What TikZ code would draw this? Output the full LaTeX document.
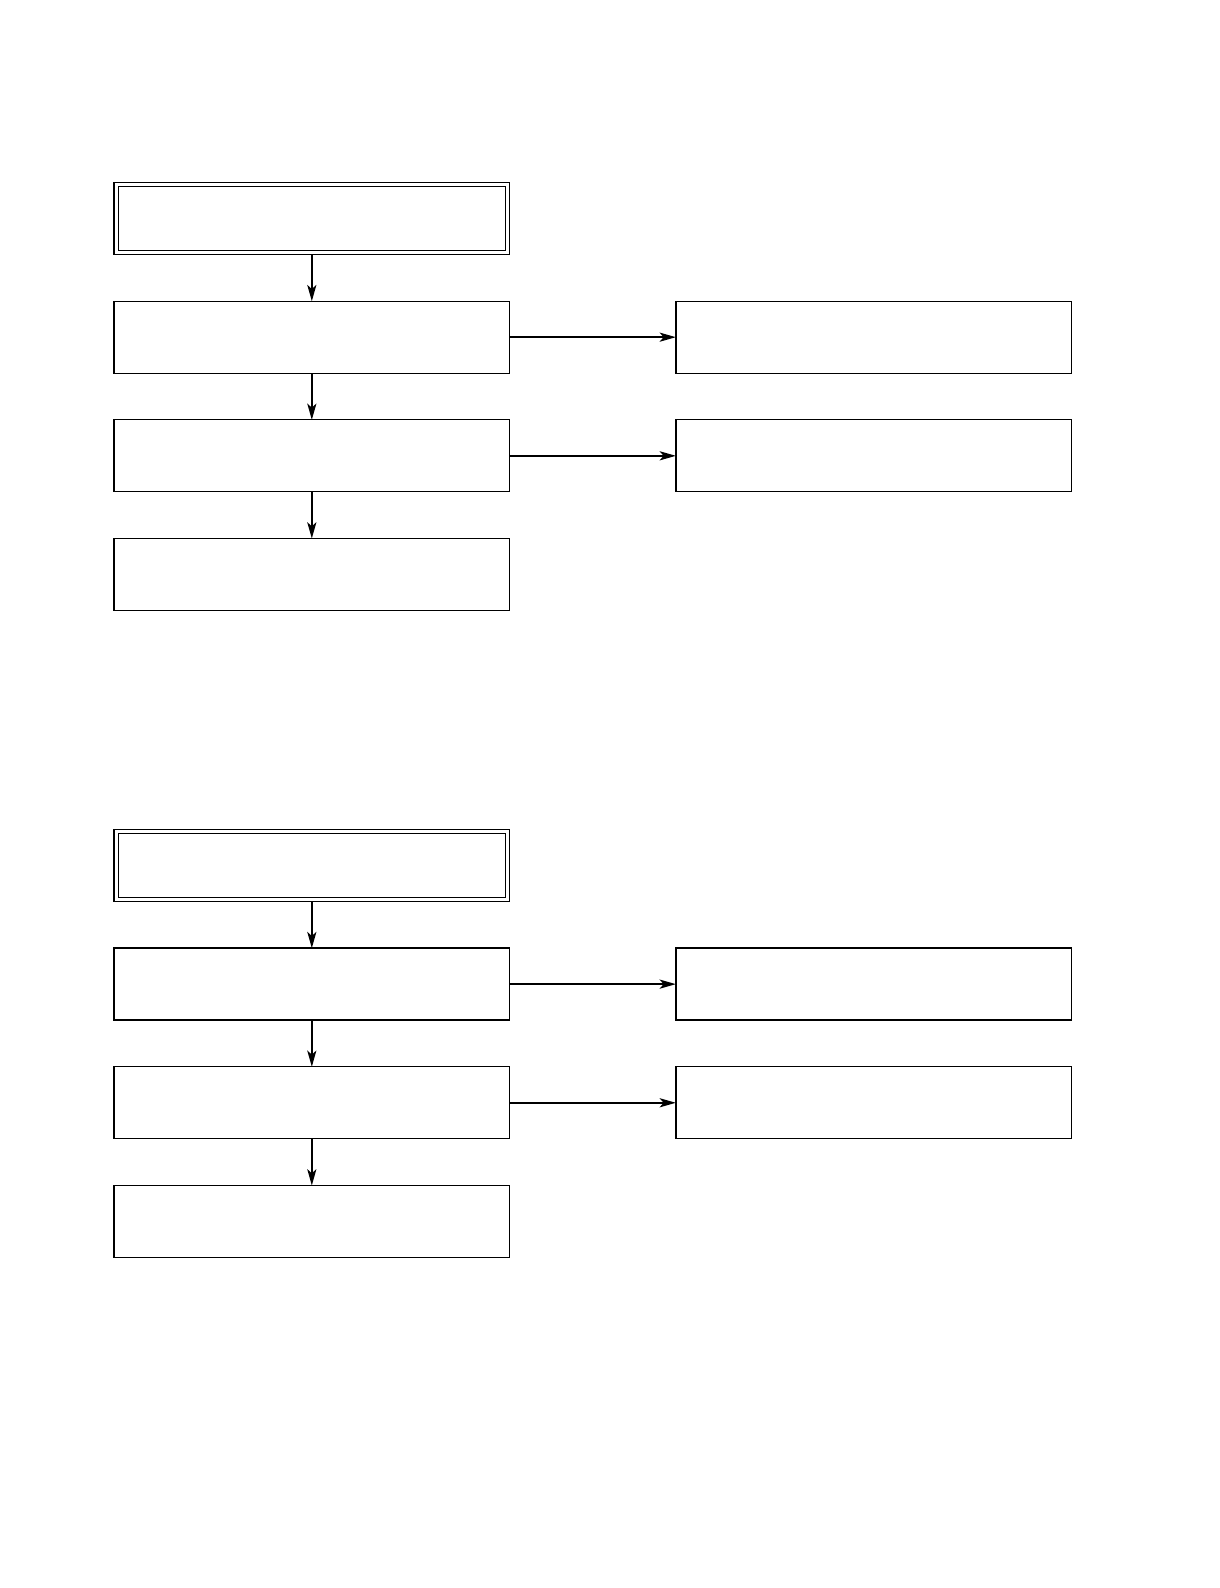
\documentclass[tikz,border=0pt]{standalone}
\usetikzlibrary{positioning, arrows.meta}
\tikzset{
  box/.style={
    rectangle, draw, line width=1.3pt,
    minimum width=390pt, minimum height=71pt,
    inner sep=0pt, outer sep=0pt,
    node distance=46pt and 164pt
  },
  dbox/.style={ % start box, the inner frame is added below
    box, line width=1.7pt
  },
  inframe/.style={line width=0.9pt},
  conn/.style={ % style for the connections
    -{Stealth[length=16pt, width=9pt, inset=4pt]},
    line width=1.8pt,
  },
}
\begin{document}
\begin{tikzpicture}[x=1pt, y=-1pt]
		\useasboundingbox (0,0) rectangle (1203,1566);
		% first chart
		\node[dbox] (a00) at (307.5,215.5) {};
		\draw[inframe] ([shift={(4,4)}]a00.north west) rectangle ([shift={(-4,-4)}]a00.south east);
		\node[box, below=of a00] (a01) {};
		\node[box, below=of a01] (a02) {};
		\node[box, below=of a02] (a03) {};
		\node[box, right=of a01] (b01) {};
		\node[box, right=of a02] (b02) {};
		\draw[conn] (a00) -- (a01);
		\draw[conn] (a01) -- (a02);
		\draw[conn] (a02) -- (a03);
		\draw[conn] (a01) -- (b01);
		\draw[conn] (a02) -- (b02);
		% second chart
		\node[dbox] (a10) at (307.5,853.5) {};
		\draw[inframe] ([shift={(4,4)}]a10.north west) rectangle ([shift={(-4,-4)}]a10.south east);
		\node[box, below=of a10] (a11) {};
		\node[box, below=of a11] (a12) {};
		\node[box, below=of a12] (a13) {};
		\node[box, right=of a11] (b11) {};
		\node[box, right=of a12] (b12) {};
		\draw[conn] (a10) -- (a11);
		\draw[conn] (a11) -- (a12);
		\draw[conn] (a12) -- (a13);
		\draw[conn] (a11) -- (b11);
		\draw[conn] (a12) -- (b12);
	\end{tikzpicture}
\end{document}
